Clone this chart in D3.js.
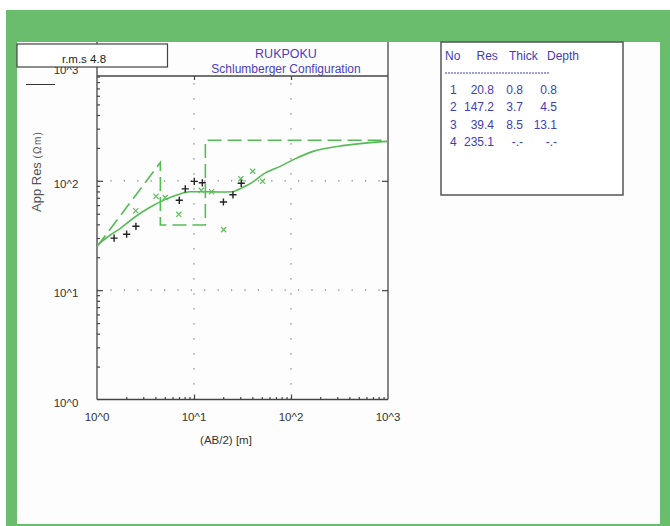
<!DOCTYPE html>
<html><head><meta charset="utf-8">
<script src="https://cdn.jsdelivr.net/npm/d3@7"></script>
<style>
html,body{margin:0;padding:0;background:#fff;}
svg{display:block;font-family:"Liberation Sans",Arial,sans-serif;}
</style></head>
<body>
<svg id="chart" width="670" height="526"></svg>
<script>
// ---- data ----
const title = "RUKPOKU";
const subtitle = "Schlumberger Configuration";
const rmsLabel = "r.m.s 4.8";
const xLabel = "(AB/2) [m]";
const tickValues = [1, 10, 100, 1000];
const tickLabels = ["10^0", "10^1", "10^2", "10^3"];

// observed field data (+)
const obsAB2 = [1.50, 2.02, 2.52, 7.05, 8.13, 10.07, 12.18, 20.1, 25.2, 30.7];
const obsRho = [29.9, 32.5, 38.4, 66.4, 84.5, 98.9, 95.9, 64.0, 74.5, 94.9];

// second data set (x)
const calcAB2 = [2.51, 4.06, 5.05, 6.97, 11.9, 15.2, 20.2, 30.4, 40.3, 50.9];
const calcRho = [53.2, 72.2, 70.3, 49.4, 81.9, 79.5, 35.8, 104.7, 122.6, 99.0];

// model curve (solid)
const curveAB2 = [1.0, 1.36, 1.73, 2.46, 3.52, 5.02, 6.52, 9.09, 13.0, 18.5, 24.6, 31.3, 40.6, 51.4, 77.1, 110, 169, 360, 700, 1000];
const curveRho = [25.8, 31.8, 36.6, 46.7, 57.3, 67.3, 73.7, 79.4, 79.4, 79.0, 79.4, 86.3, 97.9, 114.6, 135.6, 158.8, 186, 211, 224.8, 229.6];

// layered model (dashed) as drawn
const modelAB2 = [1, 4.5, 4.5, 13.1, 13.1, 1000];
const modelRho = [25, 147.2, 39.4, 39.4, 235.1, 235.1];

// layer table
const layerNo = ["1", "2", "3", "4"];
const layerRes = ["20.8", "147.2", "39.4", "235.1"];
const layerThick = ["0.8", "3.7", "8.5", "-.-"];
const layerDepth = ["0.8", "4.5", "13.1", "-.-"];

// ---- drawing ----
const svg = d3.select("#chart");
const BORDER = "#6bbd6e", LINE = "#55bb55", TXT = "#4a3ec0", AX = "#444";

// green frame
svg.append("rect").attr("x", 6).attr("y", 10).attr("width", 664).attr("height", 516).attr("fill", BORDER);
svg.append("rect").attr("x", 17).attr("y", 42).attr("width", 643).attr("height", 482).attr("fill", "#fdfdfd");

const x = d3.scaleLog().domain([1, 1000]).range([97, 388]);
const y = d3.scaleLog().domain([1, 1000]).range([399.5, 71.5]);
const plotTop = 76;

// clip
svg.append("defs").append("clipPath").attr("id", "clip")
  .append("rect").attr("x", 97).attr("y", plotTop).attr("width", 291).attr("height", 399.5 - plotTop);

// dotted grid
const grid = svg.append("g").attr("stroke", "#777").attr("stroke-width", 1.2);
[10, 100].forEach(v => {
  grid.append("line").attr("x1", x(v)).attr("x2", x(v)).attr("y1", 399.5).attr("y2", plotTop)
    .attr("stroke-dasharray", "1.2,13.8");
  grid.append("line").attr("x1", 97).attr("x2", 388).attr("y1", y(v)).attr("y2", y(v))
    .attr("stroke-dasharray", "1.2,12.2");
});

// axes frame
const fr = svg.append("g").attr("stroke", AX).attr("stroke-width", 1.3).attr("fill", "none");
fr.append("line").attr("x1", 97).attr("x2", 97).attr("y1", 42).attr("y2", 399.5);
fr.append("line").attr("x1", 388).attr("x2", 388).attr("y1", 42).attr("y2", 399.5);
fr.append("line").attr("x1", 97).attr("x2", 388).attr("y1", 399.5).attr("y2", 399.5);
fr.append("line").attr("x1", 97).attr("x2", 388).attr("y1", plotTop).attr("y2", plotTop);

// ticks using d3 axes
const minor = [];
for (let d = 1; d < 1000; d *= 10) for (let k = 2; k <= 9; k++) minor.push(d * k);
const bottomMinor = d3.axisTop(x).tickValues(minor).tickSize(2.5).tickFormat("");
const bottomMajor = d3.axisTop(x).tickValues([10, 100]).tickSize(5).tickFormat("");
const leftMinor = d3.axisRight(y).tickValues(minor.filter(v => y(v) > plotTop)).tickSize(3).tickFormat("");
const leftMajor = d3.axisRight(y).tickValues([10, 100]).tickSize(6).tickFormat("");
const topMajor = d3.axisBottom(x).tickValues([10, 100]).tickSize(4).tickFormat("");
const rightMajor = d3.axisLeft(y).tickValues([10, 100]).tickSize(6).tickFormat("");
function styleAxis(g) { g.select(".domain").remove(); g.selectAll("line").attr("stroke", AX).attr("stroke-width", 1.2); }
svg.append("g").attr("transform", "translate(0,399.5)").call(bottomMinor).call(styleAxis);
svg.append("g").attr("transform", "translate(0,399.5)").call(bottomMajor).call(styleAxis);
svg.append("g").attr("transform", "translate(97,0)").call(leftMinor).call(styleAxis);
svg.append("g").attr("transform", "translate(97,0)").call(leftMajor).call(styleAxis);
svg.append("g").attr("transform", `translate(0,${plotTop})`).call(topMajor).call(styleAxis);
svg.append("g").attr("transform", "translate(388,0)").call(rightMajor).call(styleAxis);

// tick labels
const lab = svg.append("g").attr("font-size", 11.5).attr("fill", "#333");
tickValues.forEach((v, i) => {
  lab.append("text").attr("x", x(v)).attr("y", 421).attr("text-anchor", "middle").text(tickLabels[i]);
  lab.append("text").attr("x", 66).attr("y", v === 1000 ? y(v) + 2 : y(v) + 7)
    .attr("text-anchor", "middle").text(tickLabels[i]);
});
svg.append("text").attr("x", 226).attr("y", 444).attr("text-anchor", "middle")
  .attr("font-size", 11.5).attr("fill", "#333").text(xLabel);

// y label
const yl = svg.append("text").attr("transform", "translate(41,212) rotate(-90)")
  .attr("fill", "#555");
yl.append("tspan").attr("font-size", 13).text("App Res ");
yl.append("tspan").attr("font-size", 10).attr("letter-spacing", 1.3).text("(Ωm)");
svg.append("line").attr("x1", 26).attr("x2", 55).attr("y1", 84.5).attr("y2", 84.5)
  .attr("stroke", "#333").attr("stroke-width", 1);

// plot content
const plot = svg.append("g").attr("clip-path", "url(#clip)");
const line = d3.line().x(d => x(d[0])).y(d => y(d[1]));
plot.append("path").datum(modelAB2.map((v, i) => [v, modelRho[i]]))
  .attr("d", line).attr("fill", "none").attr("stroke", LINE).attr("stroke-width", 1.6)
  .attr("stroke-dasharray", "14,6");
plot.append("path").datum(curveAB2.map((v, i) => [v, curveRho[i]]))
  .attr("d", line.curve(d3.curveMonotoneX)).attr("fill", "none").attr("stroke", LINE).attr("stroke-width", 1.6);

// x markers
const s = 2.6;
plot.selectAll(".cx").data(calcAB2.map((v, i) => [v, calcRho[i]])).join("path")
  .attr("d", d => `M${x(d[0]) - s},${y(d[1]) - s}L${x(d[0]) + s},${y(d[1]) + s}M${x(d[0]) - s},${y(d[1]) + s}L${x(d[0]) + s},${y(d[1]) - s}`)
  .attr("stroke", "#5cbf5c").attr("stroke-width", 1.2).attr("fill", "none");
// + markers
const p = 3.6;
plot.selectAll(".ob").data(obsAB2.map((v, i) => [v, obsRho[i]])).join("path")
  .attr("d", d => `M${x(d[0]) - p},${y(d[1])}L${x(d[0]) + p},${y(d[1])}M${x(d[0])},${y(d[1]) - p}L${x(d[0])},${y(d[1]) + p}`)
  .attr("stroke", "#222").attr("stroke-width", 1.4).attr("fill", "none");

// title
svg.append("text").attr("x", 286).attr("y", 57.5).attr("text-anchor", "middle")
  .attr("font-size", 12.5).attr("fill", TXT).text(title);
svg.append("text").attr("x", 286).attr("y", 73).attr("text-anchor", "middle")
  .attr("font-size", 12).attr("fill", TXT).text(subtitle);

// rms box
svg.append("rect").attr("x", 17).attr("y", 44).attr("width", 150.5).attr("height", 23)
  .attr("fill", "#fff").attr("stroke", "#444").attr("stroke-width", 1.2);
svg.append("text").attr("x", 84).attr("y", 62.5).attr("text-anchor", "middle")
  .attr("font-size", 11.5).attr("fill", "#222").text(rmsLabel);

// layer table
svg.append("rect").attr("x", 441).attr("y", 42).attr("width", 182).attr("height", 153)
  .attr("fill", "#fff").attr("stroke", "#555").attr("stroke-width", 1.5);
const tb = svg.append("g").attr("font-size", 12).attr("fill", "#3d3db8");
tb.append("text").attr("x", 445).attr("y", 60).text("No");
tb.append("text").attr("x", 476.5).attr("y", 60).text("Res");
tb.append("text").attr("x", 509).attr("y", 60).text("Thick");
tb.append("text").attr("x", 547).attr("y", 60).text("Depth");
tb.append("line").attr("x1", 445).attr("x2", 550).attr("y1", 73).attr("y2", 73)
  .attr("stroke", "#3d3db8").attr("stroke-width", 1).attr("stroke-dasharray", "2,1");
layerNo.forEach((n, i) => {
  const yy = 93.5 + i * 17.5;
  tb.append("text").attr("x", 450).attr("y", yy).text(n);
  tb.append("text").attr("x", 494).attr("y", yy).attr("text-anchor", "end").text(layerRes[i]);
  tb.append("text").attr("x", 523).attr("y", yy).attr("text-anchor", "end").text(layerThick[i]);
  tb.append("text").attr("x", 557).attr("y", yy).attr("text-anchor", "end").text(layerDepth[i]);
});
</script>
</body></html>
